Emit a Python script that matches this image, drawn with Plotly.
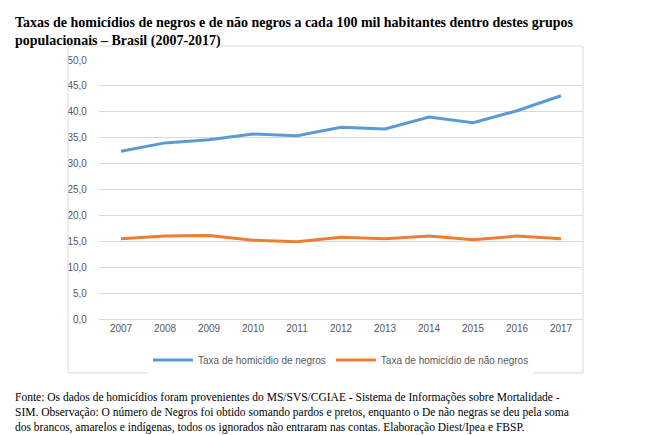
import plotly.graph_objects as go

anos = ["2007", "2008", "2009", "2010", "2011", "2012", "2013", "2014", "2015", "2016", "2017"]
negros = [32.4, 34.0, 34.6, 35.7, 35.4, 37.0, 36.7, 39.0, 37.9, 40.2, 43.1]
nao_negros = [15.5, 16.0, 16.1, 15.2, 14.9, 15.8, 15.5, 16.0, 15.3, 16.0, 15.5]

fig = go.Figure()
fig.add_trace(go.Scatter(x=anos, y=negros, mode="lines", name="Taxa de homicídio de negros",
                         line=dict(color="#5B9BD5", width=3)))
fig.add_trace(go.Scatter(x=anos, y=nao_negros, mode="lines", name="Taxa de homicídio de não negros",
                         line=dict(color="#ED7D31", width=3)))

fig.update_layout(
    width=653, height=435, paper_bgcolor="white", plot_bgcolor="white",
    margin=dict(l=91, r=78, t=52, b=124),
    font=dict(family="Liberation Sans", size=10, color="#595959"),
    legend=dict(orientation="h", x=0.5, xanchor="center", y=-0.158, yanchor="middle",
                font=dict(size=10, color="#595959"), itemwidth=40),
    xaxis=dict(type="category", range=[-0.5, 10.5], showgrid=False, showline=True,
               linecolor="#d9d9d9", ticks=""),
    yaxis=dict(range=[0, 50], dtick=5, tickformat=".1f",
               gridcolor="#d9d9d9", zeroline=False, ticks="", ticksuffix="    "),
    separators=",.",
)
fig.add_annotation(xref="paper", yref="paper", x=-0.178, y=1.18, xanchor="left", yanchor="top",
                   align="left", showarrow=False,
                   text="<b>Taxas de homicídios de negros e de não negros a cada 100 mil habitantes dentro destes grupos<br>populacionais – Brasil (2007-2017)</b>",
                   font=dict(family="Liberation Serif", size=14, color="black"))
fig.add_annotation(xref="paper", yref="paper", x=-0.178, y=-0.27, xanchor="left", yanchor="top",
                   align="left", showarrow=False,
                   text="Fonte: Os dados de homicídios foram provenientes do MS/SVS/CGIAE - Sistema de Informações sobre Mortalidade -<br>SIM. Observação: O número de Negros foi obtido somando pardos e pretos, enquanto o De não negras se deu pela soma<br>dos brancos, amarelos e indígenas, todos os ignorados não entraram nas contas. Elaboração Diest/Ipea e FBSP.",
                   font=dict(family="Liberation Serif", size=11.5, color="black"))
fig.add_shape(type="rect", xref="paper", yref="paper", x0=-0.064, x1=1.0, y0=-0.208, y1=1.054,
              line=dict(color="#d9d9d9", width=1))

fig.write_html("out.html")
